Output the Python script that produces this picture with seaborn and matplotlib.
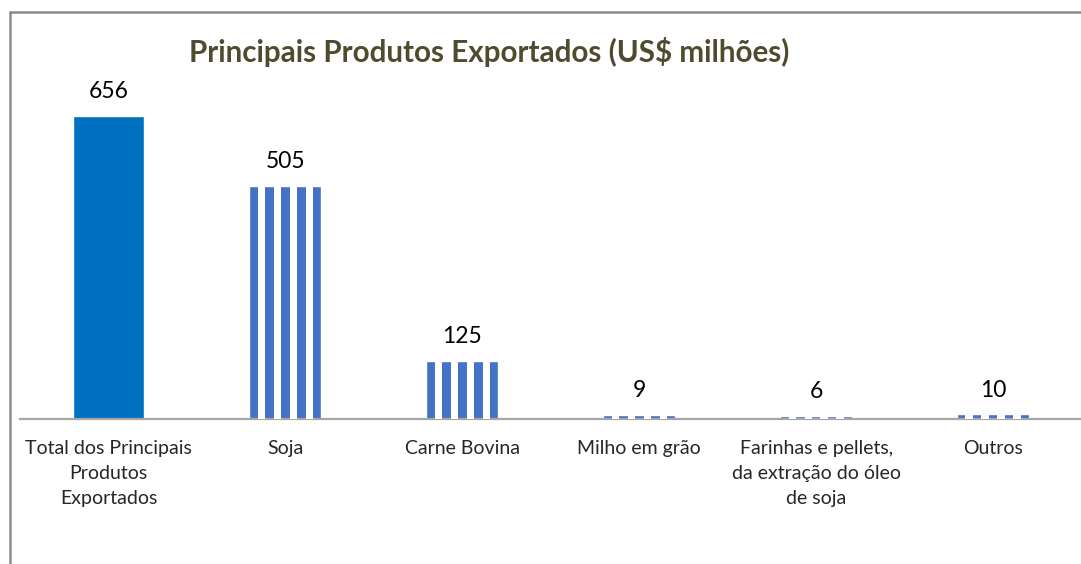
import matplotlib.pyplot as plt
import matplotlib.patches as mpatches
import matplotlib.lines as mlines
import seaborn as sns
import pandas as pd

# Principais produtos exportados (US$ milhões)
produtos = ["Total dos Principais\nProdutos\nExportados", "Soja", "Carne Bovina",
            "Milho em grão", "Farinhas e pellets,\nda extração do óleo\nde soja", "Outros"]
valores = [656, 505, 125, 9, 6, 10]

df = pd.DataFrame({"produto": produtos, "valor": valores})

sns.set_style("white")
plt.rcParams['font.family'] = ['Lato', 'DejaVu Sans']

fig = plt.figure(figsize=(10.81, 5.64), dpi=100)
ax = fig.add_axes([20 / 1081, 1 - 419 / 564, 1065 / 1081, 369 / 564])

sns.barplot(data=df, x="produto", y="valor", color="#4472C4", width=0.406,
            saturation=1, ax=ax)
ax.patches[0].set_facecolor("#0070C0")

# listras verticais brancas nas outras barras
for p in ax.patches[1:]:
    x0, w, h = p.get_x(), p.get_width(), p.get_height()
    for k in range(4):
        ax.add_patch(mpatches.Rectangle((x0 + w * (2 * k + 1.05) / 9, 0), w * 0.9 / 9, h,
                                        facecolor="white", edgecolor="none", zorder=3))

for p, v in zip(ax.patches[:6], valores):
    ax.text(p.get_x() + p.get_width() / 2, v + 30, str(v), ha="center", va="bottom",
            fontsize=16.5, color="black")

ax.set_xlim(-0.5, 5.52)
ax.set_ylim(0, 369 / 0.462)
ax.set_xlabel("")
ax.set_ylabel("")
ax.set_yticks([])
ax.tick_params(axis="x", length=0, pad=15, labelsize=14)
for lab in ax.get_xticklabels():
    lab.set_linespacing(1.58)
for s in ["top", "right", "left"]:
    ax.spines[s].set_visible(False)
ax.spines["bottom"].set_color("#A6A6A6")
ax.spines["bottom"].set_linewidth(1.6)

fig.text(489 / 1081, 1 - 52 / 564, "Principais Produtos Exportados (US$ milhões)",
         ha="center", va="center", fontsize=21.3, fontweight="bold", color="#4F4B2E")

# borda do gráfico
bx, by = 10 / 1081, 1 - 12 / 564
fig.add_artist(mlines.Line2D([bx, bx], [0, by], color="#8C8C8C", lw=1.8))
fig.add_artist(mlines.Line2D([bx, 1], [by, by], color="#8C8C8C", lw=1.8))

fig.savefig("out.png", dpi=100)
